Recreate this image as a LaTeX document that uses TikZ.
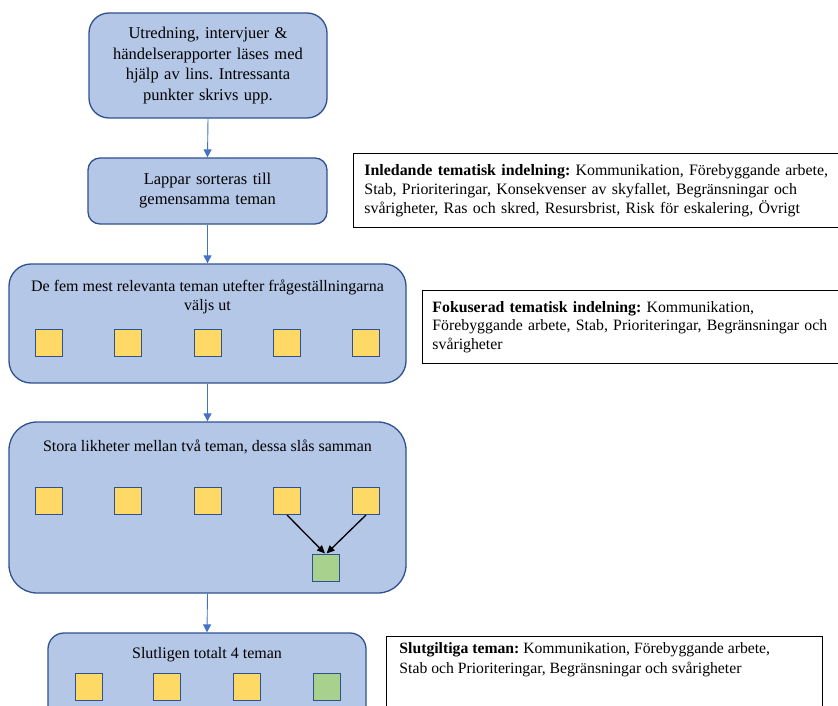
\documentclass[tikz,border=0pt]{standalone}
\usepackage{fontspec}
\setmainfont{Liberation Serif}
\usetikzlibrary{arrows.meta}

\definecolor{stagefill}{HTML}{B4C7E7}
\definecolor{stageline}{HTML}{2F528F}
\definecolor{flow}{HTML}{4472C4}
\definecolor{themefill}{HTML}{FFD966}
\definecolor{mergedfill}{HTML}{A9D18E}

\begin{document}
\frenchspacing
\hyphenpenalty=10000
\begin{tikzpicture}[x=1pt, y=-1pt,
  stage/.style={draw=stageline, fill=stagefill, line width=1.3pt,
    rounded corners=#1, inner sep=0pt},
  txt/.style={font=\fontsize{16}{19.5}\selectfont},
  notetxt/.style={font=\fontsize{15.9}{19}\selectfont},
  theme/.style={draw=stageline, fill=themefill, line width=1pt,
    minimum width=27pt, minimum height=27pt, inner sep=0pt},
  merged/.style={theme, fill=mergedfill},
  flowarrow/.style={draw=flow, line width=0.9pt,
    -{Triangle[width=8pt,length=8pt]}},
  mergearrow/.style={draw=black, line width=1.3pt,
    -{Triangle[width=7pt,length=8pt]}},
  notebox/.style={draw=black, fill=white, line width=0.9pt, anchor=north west,
    inner xsep=11pt, inner ysep=0pt, align=left}
]
\useasboundingbox (0,0) rectangle (838,706);
\clip (0,0) rectangle (838,706);

% ---- process stages ----
\node[stage=20pt, minimum width=238pt, minimum height=105pt,
  text width=225pt, align=center,
  font=\fontsize{16.5}{20.5}\selectfont] (s1) at (208,65.5)
  {Utredning, intervjuer \&\\händelserapporter läses med\\hjälp av lins. Intressanta\\punkter skrivs upp.};

\node[stage=12pt, minimum width=239pt, minimum height=66pt,
  text width=225pt, align=center,
  font=\fontsize{16.5}{20}\selectfont] (s2) at (207.5,191)
  {Lappar sorteras till\\gemensamma teman};

\node[stage=22pt, minimum width=397pt, minimum height=119pt] (s3) at (207.5,323.5) {};
\node[txt, align=center] (t3) at (207.5,297)
  {De fem mest relevanta teman utefter frågeställningarna\\väljs ut};

\node[stage=28pt, minimum width=397pt, minimum height=171pt] (s4) at (207.5,507.5) {};
\node[txt] (t4) at (207.5,447) {Stora likheter mellan två teman, dessa slås samman};

\node[stage=16pt, minimum width=318pt, minimum height=110pt] (s5) at (207,688) {};
\node[txt] (t5) at (207,655) {Slutligen totalt 4 teman};

% ---- themes per stage ----
\foreach \i/\x in {1/48.5, 2/127.5, 3/207.5, 4/287, 5/366} {
  \node[theme] (a\i) at (\x,343) {};
  \node[theme] (b\i) at (\x,501) {};
}
\node[merged] (bm) at (325.5,567.5) {};

\foreach \i/\x in {1/88.5, 2/167, 3/246.5} {
  \node[theme] (c\i) at (\x,686.5) {};
}
\node[merged] (cm) at (326.5,686.5) {};

% ---- flow between stages ----
\draw[flowarrow] (s1.south) -- (s2.north);
\draw[flowarrow] (s2.south) -- (s3.north);
\draw[flowarrow] (s3.south) -- (s4.north);
\draw[flowarrow] (s4.south) -- (s5.north);

% ---- merging two themes ----
\draw[mergearrow] (b4.south) -- ([xshift=-0.5pt]bm.north);
\draw[mergearrow] (b5.south) -- ([xshift=1pt]bm.north);

% ---- theme lists ----
\node[notebox, notetxt, minimum width=500pt, minimum height=74pt, text width=478pt]
  (n1) at (353,153)
  {\textbf{Inledande tematisk indelning:} Kommunikation, Förebyggande arbete,\\
   Stab, Prioriteringar, Konsekvenser av skyfallet, Begränsningar och\\
   svårigheter, Ras och skred, Resursbrist, Risk för eskalering, Övrigt};

\node[notebox, inner xsep=10pt, minimum width=460pt, minimum height=73pt,
  text width=440pt, font=\fontsize{15.8}{18.5}\selectfont]
  (n2) at (422,290)
  {\textbf{Fokuserad tematisk indelning:} Kommunikation,\\
   Förebyggande arbete, Stab, Prioriteringar, Begränsningar och\\
   svårigheter};

\node[notebox, inner xsep=13pt, inner ysep=6pt, minimum width=436pt] (n3) at (386,636)
  {\parbox[t][100pt][t]{410pt}{\fontsize{15.7}{20}\selectfont
   \textbf{Slutgiltiga teman:} Kommunikation, Förebyggande arbete,\\
   Stab och Prioriteringar, Begränsningar och svårigheter}};
\end{tikzpicture}
\end{document}
